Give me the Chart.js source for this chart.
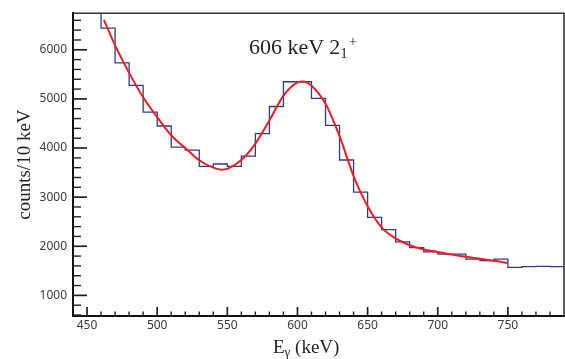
<!DOCTYPE html>
<html><head><meta charset="utf-8">
<script src="https://cdn.jsdelivr.net/npm/chart.js@4/dist/chart.umd.min.js"></script>
<style>
html,body{margin:0;padding:0;background:#fff;}
#wrap{position:relative;width:565px;height:359px;overflow:hidden;}
canvas{position:absolute;left:0;top:0;}
.lbl{position:absolute;font-family:"Liberation Serif","Times New Roman",serif;color:#231f20;white-space:nowrap;line-height:1;}
.lbl sub,.lbl sup{font-size:0.68em;vertical-align:baseline;position:relative;line-height:1;}
.lbl sub{top:0.28em;}
.lbl sup{top:-0.55em;margin-left:1px;}
</style></head><body>
<div id="wrap">
<canvas id="c" width="565" height="359"></canvas>
<div class="lbl" id="peak" style="left:249px;top:36px;font-size:22px;">606 keV 2<sub>1</sub><sup>+</sup></div>
<div class="lbl" id="xt" style="left:273px;top:336.5px;font-size:19px;">E<sub>γ</sub> (keV)</div>
</div>
<script>
// ---- data ----
const binLowEdges = [440,450,460,470,480,490,500,510,520,530,540,550,560,570,580,590,600,610,620,630,640,650,660,670,680,690,700,710,720,730,740,750,760,770,780];
const binCounts   = [6900,6900,6443,5732,5274,4730,4448,4018,3958,3627,3675,3627,3837,4293,4845,5349,5349,5012,4462,3756,3103,2587,2337,2089,1974,1887,1841,1841,1740,1706,1740,1571,1585,1591,1585];
const binWidthKeV = 10;
const fitEnergy = [462,470,480,490,500,510,520,530,540,546,550,560,570,580,590,600,604,610,620,630,640,650,660,670,680,690,700,710,720,730,740,750];
const fitCounts = [6610,6090,5530,5032,4629,4260,4000,3750,3600,3560,3575,3756,4091,4562,5067,5335,5355,5268,4900,4240,3430,2815,2385,2160,2020,1935,1885,1830,1787,1746,1706,1660];
const xTickLabels = [450,500,550,600,650,700,750];
const yTickLabels = [1000,2000,3000,4000,5000,6000];
const xRange = [440,790];
const yRange = [580,6745];

const histPoints = binLowEdges.map((e,i)=>({x:e,y:binCounts[i]}));
histPoints.push({x:binLowEdges[binLowEdges.length-1]+binWidthKeV, y:binCounts[binCounts.length-1]});
const fitPoints = fitEnergy.map((e,i)=>({x:e,y:fitCounts[i]}));

const frameTicks = {
  id:'frameTicks',
  afterDraw(chart){
    const ctx = chart.ctx;
    const a = chart.chartArea;
    const xs = chart.scales.x, ys = chart.scales.y;
    ctx.save();
    ctx.strokeStyle = '#231f20';
    ctx.lineCap = 'butt';
    for (let v = 600; v <= yRange[1]; v += 200){
      const py = ys.getPixelForValue(v);
      const major = (v % 1000) === 0;
      ctx.lineWidth = major ? 1.7 : 1.4;
      ctx.beginPath(); ctx.moveTo(a.left, py); ctx.lineTo(a.left + (major ? 14 : 8), py); ctx.stroke();
    }
    for (let v = 450; v < xRange[1]; v += 10){
      const px = xs.getPixelForValue(v);
      const major = (v % 50) === 0;
      ctx.lineWidth = major ? 1.7 : 1.4;
      ctx.beginPath(); ctx.moveTo(px, a.bottom); ctx.lineTo(px, a.bottom - (major ? 9 : 4.5)); ctx.stroke();
    }
    ctx.strokeStyle = '#333333';
    ctx.lineWidth = 1.6;
    ctx.beginPath();
    ctx.moveTo(a.left, a.top); ctx.lineTo(a.right, a.top); ctx.lineTo(a.right, a.bottom);
    ctx.stroke();
    ctx.restore();
  }
};

new Chart(document.getElementById('c'), {
  type:'line',
  data:{datasets:[
    {label:'fit', data:fitPoints, borderColor:'#ee1c24', borderWidth:2, pointRadius:0, cubicInterpolationMode:'monotone', fill:false},
    {label:'spectrum', data:histPoints, borderColor:'#2c3b8e', borderWidth:1.3, pointRadius:0, stepped:true, fill:false}
  ]},
  options:{
    responsive:false, animation:false, devicePixelRatio:1,
    layout:{padding:{top:10,right:1,left:0,bottom:0}},
    plugins:{legend:{display:false}, tooltip:{enabled:false}},
    scales:{
      x:{type:'linear', min:xRange[0], max:xRange[1],
        grid:{display:false, drawTicks:false},
        border:{display:true, color:'#111', width:2},
        afterBuildTicks(s){ s.ticks = xTickLabels.map(v=>({value:v})); },
        afterFit(s){ s.height = 43; },
        ticks:{autoSkip:false, maxRotation:0, padding:2, color:'#3a3a3a', font:{family:'Noto Sans', size:12}, callback:(v)=>String(v)}
      },
      y:{type:'linear', min:yRange[0], max:yRange[1],
        grid:{display:false, drawTicks:false},
        border:{display:true, color:'#111', width:2},
        afterBuildTicks(s){ s.ticks = yTickLabels.map(v=>({value:v})); },
        afterFit(s){ s.width = 73; },
        ticks:{autoSkip:false, padding:6, color:'#3a3a3a', font:{family:'Noto Sans', size:12}, callback:(v)=>String(v)},
        title:{display:true, text:'counts/10 keV', color:'#231f20', font:{family:'Liberation Serif', size:19}, padding:{top:14,bottom:0}}
      }
    }
  },
  plugins:[frameTicks]
});
</script>
</body></html>
